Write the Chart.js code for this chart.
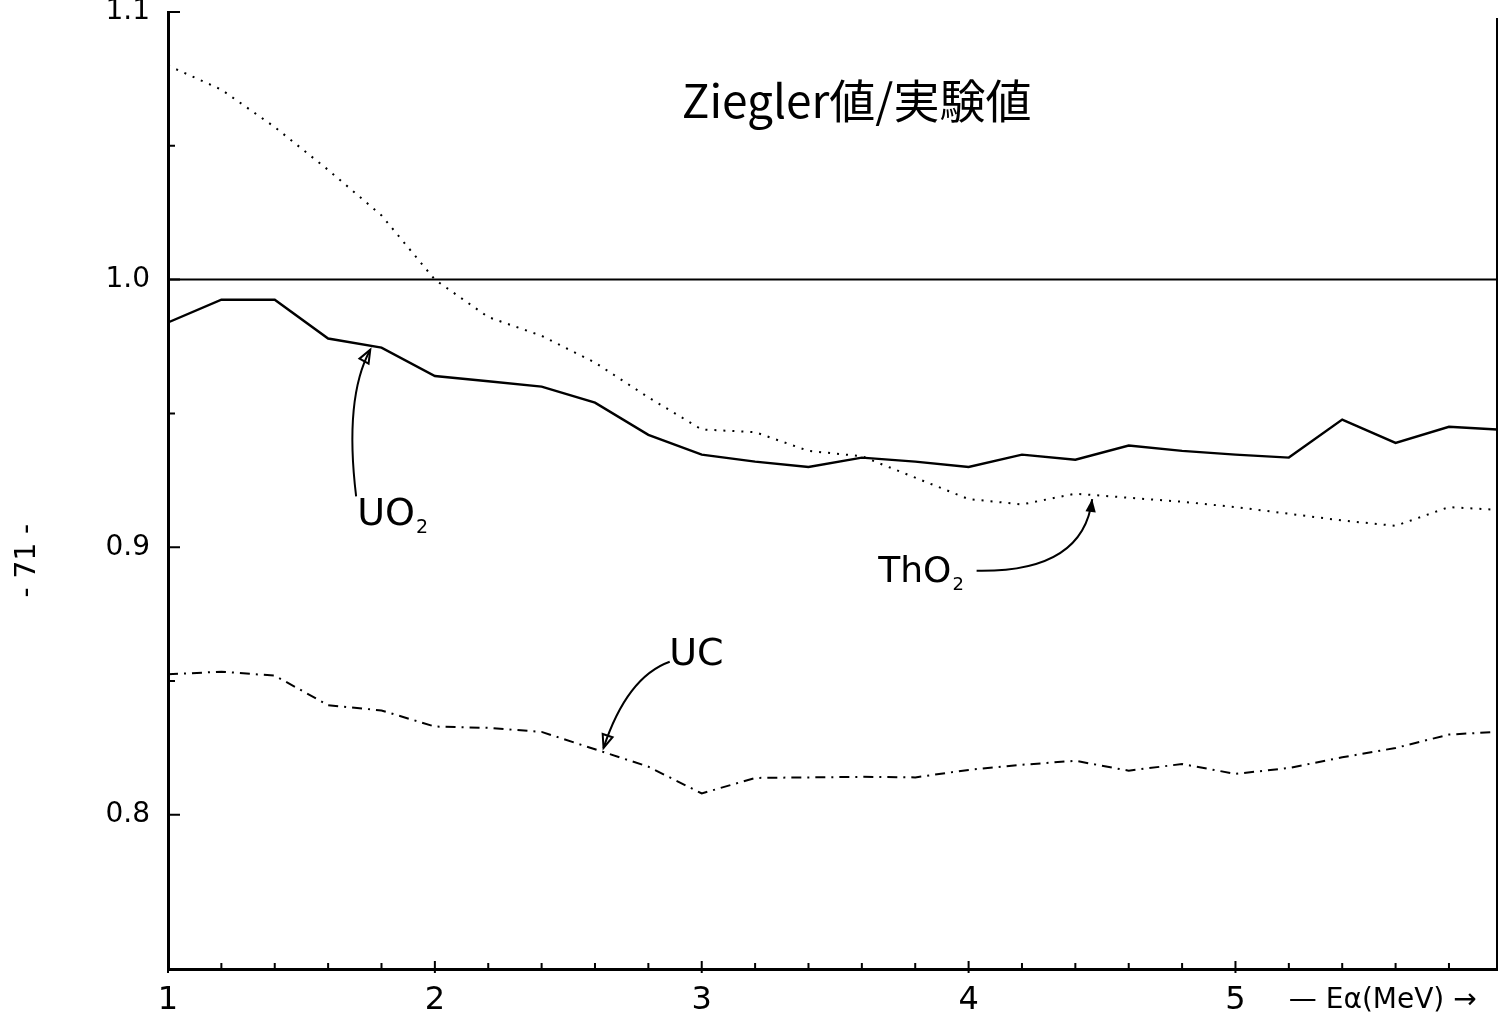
<!DOCTYPE html>
<html>
<head>
<meta charset="utf-8">
<script src="https://cdn.jsdelivr.net/npm/chart.js@4.4.1/dist/chart.umd.min.js"></script>
<style>
    html, body { margin: 0; padding: 0; background: #fff; }
    #wrap { width: 1500px; height: 1026px; }
</style>
</head>
<body>
<div id="wrap"><canvas id="chart1"></canvas></div>
<script>
// E_alpha (MeV) sample points
const energies = [1.0, 1.2, 1.4, 1.6, 1.8, 2.0, 2.2, 2.4, 2.6, 2.8, 3.0, 3.2, 3.4,
    3.6, 3.8, 4.0, 4.2, 4.4, 4.6, 4.8, 5.0, 5.2, 5.4, 5.6, 5.8, 5.98];

// Ziegler / experiment ratio
const uo2Values = [0.984, 0.9925, 0.9925, 0.978, 0.9746, 0.964, 0.962, 0.96, 0.954,
    0.942, 0.9346, 0.932, 0.93, 0.9335, 0.932, 0.93, 0.9346, 0.9327, 0.938, 0.936,
    0.9346, 0.9335, 0.9477, 0.939, 0.945, 0.944];
const tho2Values = [1.08, 1.071, 1.057, 1.041, 1.024, 1.0, 0.986, 0.979, 0.969,
    0.956, 0.944, 0.943, 0.936, 0.934, 0.926, 0.918, 0.916, 0.92, 0.9185, 0.917,
    0.915, 0.9125, 0.91, 0.908, 0.915, 0.914];
const ucValues = [0.8525, 0.8535, 0.852, 0.841, 0.839, 0.833, 0.8325, 0.831, 0.8245,
    0.818, 0.808, 0.8138, 0.814, 0.8142, 0.814, 0.8168, 0.8187, 0.8202, 0.8165,
    0.819, 0.8153, 0.8175, 0.8215, 0.825, 0.83, 0.831];
const refEnergies = [1.0, 5.98];
const refValues = [1.0, 1.0];

const xTicks = [1, 2, 3, 4, 5];
const xMinorTicks = [1.2, 1.4, 1.6, 1.8, 2.2, 2.4, 2.6, 2.8, 3.2, 3.4, 3.6, 3.8,
    4.2, 4.4, 4.6, 4.8, 5.2, 5.4, 5.6, 5.8];
const yTicks = [0.8, 0.9, 1.0, 1.1];
const yTickLabels = ["0.8", "0.9", "1.0", "1.1"];
const yMinorTicks = [0.85, 0.95, 1.05];

const toPoints = (xs, ys) => xs.map((x, i) => ({ x: x, y: ys[i] }));

const handFont = '"DejaVu Sans", sans-serif';

// labels and arrows in data coordinates
const notes = [
    { text: "UO", sub: "2", x: 1.84, y: 0.912, size: 38,
      arrow: [[1.705, 0.919], [1.66, 0.956], [1.758, 0.9738]], open: true },
    { text: "ThO", sub: "2", x: 3.82, y: 0.8905, size: 36,
      arrow: [[4.03, 0.8912], [4.43, 0.8905], [4.463, 0.918]], open: false },
    { text: "UC", sub: "", x: 2.98, y: 0.8598, size: 38,
      arrow: [[2.88, 0.8572], [2.72, 0.8515], [2.632, 0.825]], open: true },
];

const decorPlugin = {
    id: "decor",
    afterDraw(chart) {
        const ctx = chart.ctx;
        const xs = chart.scales.x;
        const ys = chart.scales.y;
        const area = chart.chartArea;
        ctx.save();
        ctx.strokeStyle = "#000";
        ctx.fillStyle = "#000";
        ctx.lineWidth = 2;

        // right frame line
        ctx.beginPath();
        ctx.moveTo(area.right, area.top + 6);
        ctx.lineTo(area.right, area.bottom);
        ctx.stroke();

        // inward ticks
        ctx.beginPath();
        yTicks.forEach((v) => {
            const p = ys.getPixelForValue(v);
            ctx.moveTo(area.left, p);
            ctx.lineTo(area.left + 12, p);
        });
        yMinorTicks.forEach((v) => {
            const p = ys.getPixelForValue(v);
            ctx.moveTo(area.left, p);
            ctx.lineTo(area.left + 7, p);
        });
        xTicks.forEach((v) => {
            const p = xs.getPixelForValue(v);
            ctx.moveTo(p, area.bottom + 4);
            ctx.lineTo(p, area.bottom - 8);
        });
        xMinorTicks.forEach((v) => {
            const p = xs.getPixelForValue(v);
            ctx.moveTo(p, area.bottom);
            ctx.lineTo(p, area.bottom - 6);
        });
        ctx.stroke();

        // series labels with arrows
        ctx.textBaseline = "middle";
        notes.forEach((n) => {
            const px = xs.getPixelForValue(n.x);
            const py = ys.getPixelForValue(n.y);
            ctx.font = n.size + "px " + handFont;
            const w1 = ctx.measureText(n.text).width;
            ctx.font = Math.round(n.size * 0.5) + "px " + handFont;
            const w2 = ctx.measureText(n.sub).width;
            const left = px - (w1 + w2) / 2;
            ctx.font = n.size + "px " + handFont;
            ctx.textAlign = "left";
            ctx.fillText(n.text, left, py);
            ctx.font = Math.round(n.size * 0.5) + "px " + handFont;
            ctx.fillText(n.sub, left + w1 + 1, py + n.size * 0.35);

            const [s, c, t] = n.arrow.map((p) => [xs.getPixelForValue(p[0]), ys.getPixelForValue(p[1])]);
            ctx.lineWidth = 2;
            ctx.beginPath();
            ctx.moveTo(s[0], s[1]);
            ctx.quadraticCurveTo(c[0], c[1], t[0], t[1]);
            ctx.stroke();
            const ang = Math.atan2(t[1] - c[1], t[0] - c[0]);
            const len = 14;
            ctx.beginPath();
            ctx.moveTo(t[0], t[1]);
            ctx.lineTo(t[0] - len * Math.cos(ang - 0.38), t[1] - len * Math.sin(ang - 0.38));
            ctx.lineTo(t[0] - len * Math.cos(ang + 0.38), t[1] - len * Math.sin(ang + 0.38));
            ctx.closePath();
            if (n.open) {
                ctx.stroke();
            } else {
                ctx.fill();
            }
        });

        // title
        ctx.textAlign = "center";
        ctx.font = '46px "Noto Sans CJK JP", sans-serif';
        ctx.fillText("Ziegler値/実験値", xs.getPixelForValue(3.58), ys.getPixelForValue(1.067));

        // x axis name
        ctx.font = "28px " + handFont;
        ctx.textAlign = "left";
        ctx.fillText("— Eα(MeV) →", xs.getPixelForValue(5.2), area.bottom + 32);

        // page number
        ctx.translate(28, ys.getPixelForValue(0.895));
        ctx.rotate(-Math.PI / 2);
        ctx.textAlign = "center";
        ctx.font = "28px " + handFont;
        ctx.fillText("- 71 -", 0, 0);
        ctx.restore();
    },
};

const ctx = document.getElementById("chart1").getContext("2d");

new Chart(ctx, {
    type: "line",
    data: {
        datasets: [
            {
                label: "ref",
                data: toPoints(refEnergies, refValues),
                borderColor: "#000",
                borderWidth: 2,
                pointRadius: 0,
            },
            {
                label: "UO2",
                data: toPoints(energies, uo2Values),
                borderColor: "#000",
                borderWidth: 2.4,
                pointRadius: 0,
            },
            {
                label: "ThO2",
                data: toPoints(energies, tho2Values),
                borderColor: "#000",
                borderWidth: 2,
                borderDash: [2, 7],
                pointRadius: 0,
            },
            {
                label: "UC",
                data: toPoints(energies, ucValues),
                borderColor: "#000",
                borderWidth: 2,
                borderDash: [10, 6, 2, 6],
                pointRadius: 0,
            },
        ],
    },
    options: {
        responsive: true,
        maintainAspectRatio: false,
        animation: false,
        layout: {
            padding: { top: 12, right: 3, left: 0, bottom: 0 },
        },
        plugins: {
            legend: { display: false },
            tooltip: { enabled: false },
        },
        scales: {
            x: {
                type: "linear",
                min: 1,
                max: 5.98,
                afterBuildTicks: (scale) => {
                    scale.ticks = xTicks.map((v) => ({ value: v }));
                },
                afterFit: (scale) => {
                    scale.height = 57;
                    scale.paddingLeft = 0;
                    scale.paddingRight = 0;
                },
                grid: { drawOnChartArea: false, drawTicks: false },
                border: { color: "#000", width: 3 },
                ticks: {
                    color: "#000",
                    padding: 12,
                    font: { family: "DejaVu Sans", size: 32 },
                    maxRotation: 0,
                },
            },
            y: {
                min: 0.7424,
                max: 1.1,
                afterBuildTicks: (scale) => {
                    scale.ticks = yTicks.map((v) => ({ value: v }));
                },
                afterFit: (scale) => {
                    scale.width = 168;
                    scale.paddingTop = 0;
                    scale.paddingBottom = 0;
                },
                grid: { drawOnChartArea: false, drawTicks: false },
                border: { color: "#000", width: 3 },
                ticks: {
                    color: "#000",
                    padding: 18,
                    font: { family: "DejaVu Sans", size: 28 },
                    callback: (value) => {
                        const i = yTicks.findIndex((v) => Math.abs(v - value) < 1e-6);
                        return i >= 0 ? yTickLabels[i] : "";
                    },
                },
            },
        },
    },
    plugins: [decorPlugin],
});
</script>
</body>
</html>
